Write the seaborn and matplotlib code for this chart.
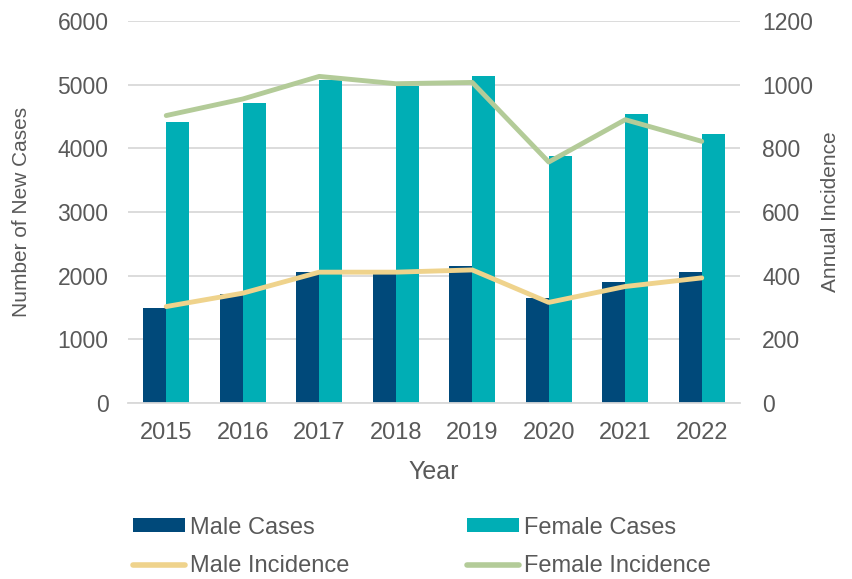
import numpy as np
import pandas as pd
import matplotlib
matplotlib.use("Agg")
import matplotlib.pyplot as plt
import seaborn as sns
from matplotlib.patches import Patch
from matplotlib.lines import Line2D

# ---- data ----
years = ["2015", "2016", "2017", "2018", "2019", "2020", "2021", "2022"]
male_cases = [1490, 1710, 2065, 2040, 2145, 1645, 1895, 2050]
female_cases = [4410, 4710, 5080, 4975, 5130, 3875, 4535, 4225]
male_incidence = [303, 345, 411, 411, 418, 316, 366, 393]
female_incidence = [903, 955, 1026, 1003, 1007, 757, 890, 822]
left_ticks = [0, 1000, 2000, 3000, 4000, 5000, 6000]
right_ticks = [0, 200, 400, 600, 800, 1000, 1200]

MALE_C = "#00497A"
FEMALE_C = "#00AEB5"
MALE_I = "#EFD38C"
FEMALE_I = "#B3CB98"
TXT = "#595959"
GRID = "#D9D9D9"

sns.set_theme(style="white")
plt.rcParams["font.family"] = ["Liberation Sans", "DejaVu Sans"]

df = pd.DataFrame({
    "Year": years * 2,
    "Cases": male_cases + female_cases,
    "Sex": ["Male Cases"] * len(years) + ["Female Cases"] * len(years),
})

fig = plt.figure(figsize=(8.53, 5.79), dpi=100)
ax = fig.add_axes([128 / 853, 1 - 403 / 579, 612 / 853, 382 / 579])

sns.barplot(data=df, x="Year", y="Cases", hue="Sex",
            palette={"Male Cases": MALE_C, "Female Cases": FEMALE_C},
            width=0.6, gap=0, saturation=1, ax=ax, legend=False,
            linewidth=0, edgecolor="none")

ax.set_ylim(0, 6000)
ax.set_xlim(-0.5, len(years) - 0.5)
ax.set_yticks(left_ticks)
ax.set_yticklabels([str(t) for t in left_ticks])
ax.yaxis.grid(True, color=GRID, linewidth=1.3)
ax.set_axisbelow(True)
for s in ["top", "right", "left"]:
    ax.spines[s].set_visible(False)
ax.spines["bottom"].set_color(GRID)
ax.spines["bottom"].set_linewidth(1.3)
ax.tick_params(axis="both", length=0, colors=TXT)
ax.tick_params(axis="y", labelsize=16.5, pad=14)
ax.tick_params(axis="x", labelsize=17, pad=14)
ax.set_xlabel("Year", fontsize=18, color=TXT, labelpad=11)
ax.set_ylabel("Number of New Cases", fontsize=15, color=TXT)
ax.yaxis.set_label_coords(-0.158, 0.5)

ax2 = ax.twinx()
pos = np.arange(len(years))
sns.lineplot(x=pos, y=male_incidence, color=MALE_I, linewidth=3.5, ax=ax2,
             solid_capstyle="round", solid_joinstyle="round")
sns.lineplot(x=pos, y=female_incidence, color=FEMALE_I, linewidth=3.5, ax=ax2,
             solid_capstyle="round", solid_joinstyle="round")
ax2.set_ylim(0, 1200)
ax2.set_yticks(right_ticks)
ax2.set_yticklabels([str(t) for t in right_ticks])
ax2.grid(False)
for s in ["top", "right", "left", "bottom"]:
    ax2.spines[s].set_visible(False)
ax2.tick_params(axis="y", length=0, colors=TXT, labelsize=16.5, pad=16)
ax2.set_ylabel("Annual Incidence", fontsize=15, color=TXT)
ax2.yaxis.set_label_coords(1.132, 0.5)

handles = [
    Patch(facecolor=MALE_C, edgecolor="none"),
    Line2D([], [], color=MALE_I, linewidth=4, solid_capstyle="round"),
    Patch(facecolor=FEMALE_C, edgecolor="none"),
    Line2D([], [], color=FEMALE_I, linewidth=4, solid_capstyle="round"),
]
labels = ["Male Cases", "Male Incidence", "Female Cases", "Female Incidence"]
fig.legend(handles, labels, ncol=2, loc="center left",
           bbox_to_anchor=(133 / 853, 1 - 547 / 579), frameon=False,
           fontsize=17, labelcolor=TXT, handlelength=2.2, handleheight=0.55,
           handletextpad=0.2, columnspacing=5.0, labelspacing=0.72,
           borderpad=0, borderaxespad=0)

fig.savefig("out.png", dpi=100)
